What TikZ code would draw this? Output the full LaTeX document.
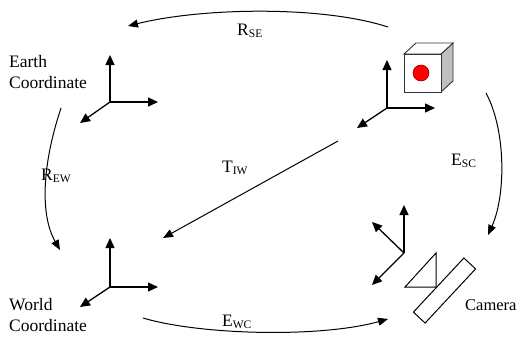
\documentclass[tikz,border=0pt]{standalone}
\usepackage{fontspec}
\setmainfont{Liberation Serif}
\usetikzlibrary{arrows.meta}
\newcommand{\sublbl}[2]{#1\raisebox{-2.5pt}{\fontsize{11.5}{11.5}\selectfont #2}}
\begin{document}
\begin{tikzpicture}[x=1pt,y=-1pt,
  axis/.style={line width=1.3pt,-{Triangle[length=10pt,width=9pt]}},
  flow/.style={line width=1pt,-{Triangle[length=10pt,width=8pt]}},
  txt/.style={inner sep=0pt,anchor=base west,font=\fontsize{17.5}{21}\selectfont}]
\useasboundingbox (0,0) rectangle (520,338);

% ---- frames: origins and axis tips ----
\coordinate (eo) at (110,102);
\coordinate (ez) at (110,55);
\coordinate (ex) at (158,102);
\coordinate (ey) at (80,123);

\coordinate (so) at (387,108);
\coordinate (sz) at (387,60);
\coordinate (sx) at (435,108);
\coordinate (sy) at (357,128);

\coordinate (wo) at (110,287);
\coordinate (wz) at (110,238);
\coordinate (wx) at (158,287);
\coordinate (wy) at (80,307);

\coordinate (co) at (404,253);
\coordinate (cz) at (404,205);
\coordinate (cx) at (372,222);
\coordinate (cy) at (372,285);

\foreach \f in {e,s,w,c}{
  \draw[axis] (\f o) -- (\f z);
  \draw[axis] (\f o) -- (\f x);
  \draw[axis] (\f o) -- (\f y);
}

% ---- light source cube ----
\coordinate (f1) at (404,54);
\coordinate (f2) at (441,54);
\coordinate (f3) at (441,92);
\coordinate (f4) at (404,92);
\coordinate (b1) at (416,43);
\coordinate (b2) at (453,43);
\coordinate (b3) at (453,81);
\draw[line width=0.9pt,fill=black!25,draw=black!80] (f2) -- (b2) -- (b3) -- (f3) -- cycle;
\draw[line width=0.9pt,fill=white,draw=black!80] (f1) -- (b1) -- (b2) -- (f2) -- cycle;
\draw[line width=0.9pt,fill=white,draw=black!80] (f1) rectangle (f3);
\node[circle,minimum size=16pt,inner sep=0pt,fill=red,draw=red!60!black,line width=0.6pt] (spot) at (421,73) {};

% ---- camera ----
\coordinate (t1) at (405,287);
\coordinate (t2) at (436,287);
\coordinate (t3) at (436,253);
\draw[line width=1pt] (t1) -- (t2) -- (t3) -- cycle;
\node[draw,line width=1pt,minimum width=74pt,minimum height=16pt,inner sep=0pt,rotate=47] (lens) at (444.5,290.5) {};

% ---- transformation arrows ----
\coordinate (rse0) at (388,27);
\coordinate (rse1) at (128,26);
\draw[flow] (rse0) .. controls (320,5) and (200,8) .. (rse1);

\coordinate (esc0) at (486,93);
\coordinate (esc1) at (488,235);
\draw[flow] (esc0) .. controls (506,130) and (506,195) .. (esc1);

\coordinate (rew0) at (61,108);
\coordinate (rew1) at (60,250);
\draw[flow] (rew0) .. controls (42,165) and (40,215) .. (rew1);

\coordinate (ewc0) at (143,318);
\coordinate (ewc1) at (388,319);
\draw[flow] (ewc0) .. controls (200,335) and (320,338) .. (ewc1);

\coordinate (tiw0) at (338,141);
\coordinate (tiw1) at (163,238);
\draw[flow] (tiw0) -- (tiw1);

% ---- labels ----
\node[txt] (earth1) at (9,67) {Earth};
\node[txt] (earth2) at (9,88) {Coordinate};
\node[txt] (world1) at (9,310) {World};
\node[txt] (world2) at (9,331) {Coordinate};
\node[txt,font=\fontsize{16.5}{21}\selectfont] (cam) at (465,310) {Camera};

\node[txt] (lrse) at (237,35) {\sublbl{R}{SE}};
\node[txt] (lesc) at (451,165) {\sublbl{E}{SC}};
\node[txt] (lrew) at (41,180) {\sublbl{R}{EW}};
\node[txt] (ltiw) at (222,172) {\sublbl{T}{IW}};
\node[txt] (lewc) at (222,326) {\sublbl{E}{WC}};
\end{tikzpicture}
\end{document}
